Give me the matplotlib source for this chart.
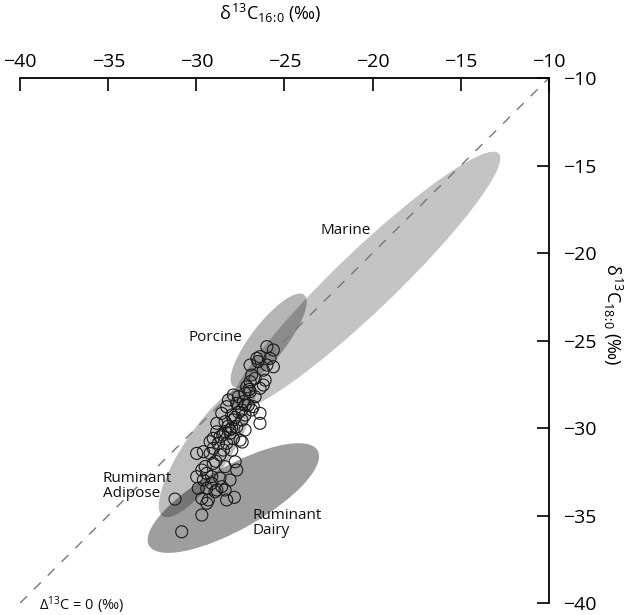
import numpy as np
import matplotlib.pyplot as plt
from matplotlib.patches import Ellipse

plt.rcParams['font.family'] = ['Open Sans', 'DejaVu Sans']
plt.rcParams['mathtext.fontset'] = 'custom'
plt.rcParams['mathtext.rm'] = 'Open Sans'
plt.rcParams['mathtext.it'] = 'Open Sans'

# d13C of C16:0 (x) and C18:0 (y) for the residue samples
c16 = [-26.00, -25.63, -26.39, -26.57, -25.82, -25.63, -26.00, -26.95, -26.20, -26.86,
       -26.67, -26.10, -26.95, -27.14, -26.20, -26.39, -26.95, -27.24, -26.67, -27.62,
       -27.90, -28.18, -27.33, -27.71, -27.05, -28.28, -26.77, -27.43, -26.39, -28.56,
       -27.24, -27.99, -27.24, -26.86, -26.39, -28.84, -28.37, -27.90, -27.42, -27.71,
       -27.24, -28.84, -28.37, -28.09, -28.66, -29.04, -27.90, -27.52, -29.22, -28.75,
       -28.28, -29.04, -28.47, -27.99, -29.22, -29.98, -29.60, -28.66, -29.04, -27.80,
       -27.71, -28.37, -29.69, -29.41, -29.98, -29.13, -28.66, -28.09, -29.60, -29.89,
       -29.13, -28.56, -29.41, -28.84, -28.37, -29.69, -29.32, -28.94, -29.41, -28.28,
       -27.84, -31.21, -29.69, -30.83, -27.60, -28.20, -28.00, -27.80, -28.50, -28.10,
       -26.50, -27.00, -28.90, -29.50, -27.40]
c18 = [-25.35, -25.54, -25.92, -26.02, -26.02, -26.50, -26.40, -26.40, -26.69, -26.97,
       -27.16, -27.26, -27.35, -27.64, -27.54, -27.73, -27.92, -28.02, -28.21, -28.21,
       -28.11, -28.40, -28.49, -28.59, -28.69, -28.78, -28.78, -28.97, -29.16, -29.16,
       -29.26, -29.26, -28.69, -28.97, -29.73, -29.73, -29.64, -29.54, -29.54, -29.93,
       -30.11, -30.21, -30.21, -30.30, -30.50, -30.59, -30.59, -30.69, -30.78, -30.87,
       -30.87, -31.16, -31.26, -31.26, -31.45, -31.45, -31.35, -31.54, -32.02, -31.93,
       -32.40, -32.21, -32.40, -32.59, -32.78, -32.78, -32.87, -32.97, -32.97, -33.45,
       -33.16, -33.35, -33.45, -33.54, -33.54, -34.02, -34.11, -33.64, -34.30, -34.11,
       -33.96, -34.06, -34.97, -35.93, -29.10, -29.90, -30.00, -29.40, -30.40, -30.10,
       -26.20, -27.80, -31.90, -32.20, -30.80]

# reference fields: name, centre, full length, full width, angle, grey level
fields = ['Marine', 'Porcine', 'Ruminant\nAdipose', 'Ruminant\nDairy']
centres = [(-20.4, -21.6), (-25.9, -25.0), (-29.4, -31.3), (-27.9, -34.0)]
lengths = [21.0, 6.6, 9.0, 11.0]
widths = [3.4, 2.0, 2.6, 3.6]
angles = [44, 52.5, 56, 29.6]
shades = [0.23, 0.29, 0.26, 0.38]
label_xy = [(-21.5, -18.7), (-28.9, -24.8), (-35.3, -33.3), (-26.8, -35.4)]

fig = plt.figure(figsize=(6.28, 6.15), dpi=100)
ax = fig.add_axes([0.032, 0.0195, 0.842, 0.8535])

for c, l, w, a, s in zip(centres, lengths, widths, angles, shades):
    ax.add_patch(Ellipse(c, l, w, angle=a, facecolor='black', alpha=s,
                         edgecolor='none', zorder=1))

ax.plot([-40, -10], [-40, -10], color='#777777', lw=1.0,
        dashes=(7, 7), zorder=2)

ax.scatter(c16, c18, s=75, facecolors='none', edgecolors='#1a1a1a',
           linewidths=0.8, zorder=3)

for name, (tx, ty) in zip(fields, label_xy):
    ha = 'center' if name in ('Marine', 'Porcine') else 'left'
    ax.text(tx, ty, name, fontsize=11, ha=ha, va='center',
            linespacing=1.0, color='#111111', zorder=4)

ax.text(-38.9, -40.15, r'$\Delta^{13}$C = 0 (‰)', fontsize=10.5,
        ha='left', va='center', color='#111111', clip_on=False)

ax.set_xlim(-40, -10)
ax.set_ylim(-40, -10)
ticks = np.arange(-40, -9, 5)
ax.set_xticks(ticks)
ax.set_yticks(ticks)
ax.set_xticklabels(['\u2212%d' % abs(t) for t in ticks])
ax.set_yticklabels(['\u2212%d' % abs(t) for t in ticks])

ax.xaxis.set_ticks_position('top')
ax.xaxis.set_label_position('top')
ax.yaxis.set_ticks_position('right')
ax.yaxis.set_label_position('right')
for side in ('left', 'bottom'):
    ax.spines[side].set_visible(False)
for side in ('top', 'right'):
    ax.spines[side].set_linewidth(1.3)
ax.tick_params(direction='in', length=9, width=1.2, labelsize=14)
ax.tick_params(axis='x', pad=5)
ax.tick_params(axis='y', pad=10)

ax.set_xlabel(r'$\delta^{13}$C$_{16\!:\!0}$ (‰)', fontsize=13)
ax.xaxis.set_label_coords(0.473, 1.11)
ax.set_ylabel(r'$\delta^{13}$C$_{18\!:\!0}$ (‰)', fontsize=13,
              rotation=-90, va='center')
ax.yaxis.set_label_coords(1.12, 0.55)

fig.savefig('out.png', dpi=100)
